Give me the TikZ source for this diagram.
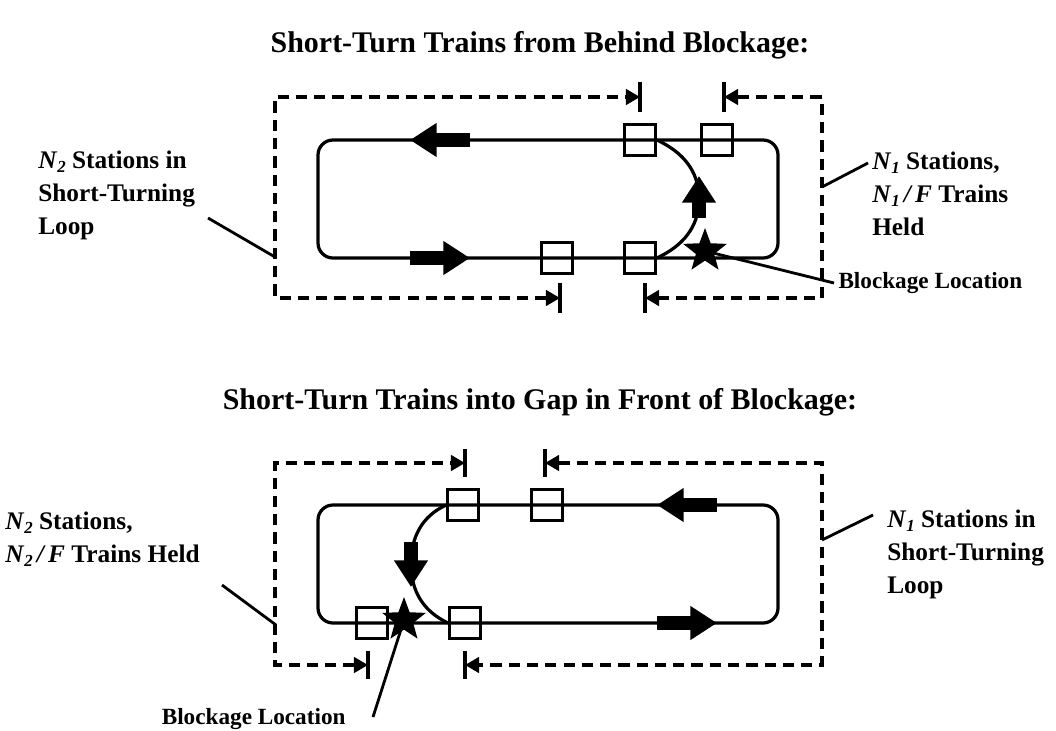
\documentclass[tikz,border=0pt]{standalone}
\usepackage{fontspec}
\setmainfont{Liberation Serif}
\usetikzlibrary{arrows.meta,shapes.geometric}

\newcommand{\Nsub}[1]{\textit{N}\raisebox{-.35ex}{\fontsize{12}{12}\selectfont\textit{#1}}}

\begin{document}
\begin{tikzpicture}[x=0.025cm,y=-0.025cm,
    track/.style={line width=2.3pt,rounded corners=0.375cm},
    turn/.style={line width=2.3pt},
    stn/.style={draw,line width=2.4pt,minimum size=0.76cm,inner sep=0pt},
    blk/.style={star,star points=5,star point ratio=2.4,fill=black,minimum size=1.15cm,inner sep=0pt},
    dimline/.style={line width=2.2pt,dash pattern=on 8pt off 5pt,
        {Triangle[length=10pt,width=11pt]}-{Triangle[length=10pt,width=11pt]}},
    tick/.style={line width=2.3pt},
    flow/.style={line width=10.5pt,-{Triangle[length=19pt,width=23pt]}},
    lead/.style={line width=2pt},
    lbl/.style={font=\fontsize{18}{23.5}\selectfont\bfseries,align=left,anchor=north west,inner sep=0pt},
    ttl/.style={font=\fontsize{21.3}{24}\selectfont\bfseries},
    blab/.style={font=\fontsize{16.5}{18}\selectfont\bfseries,inner sep=3pt}]
\useasboundingbox (0,0) rectangle (1056,730);

% upper panel: turn back behind the blockage
\node[ttl] (title1) at (540,45) {Short-Turn Trains from Behind Blockage:};
\draw[track] (318,140) rectangle (778,258);
\node[stn] (s1) at (640,140) {};
\node[stn] (s2) at (717,140) {};
\node[stn] (s3) at (557,258) {};
\node[stn] (s4) at (640,258) {};
\draw[turn] (s1.east) to[out=-25,in=90] (699,199) to[out=-90,in=25] (s4.east);
\draw[flow] (699,218) -- (699,176);
\draw[flow] (470,140) -- (410,140);
\draw[flow] (410,258) -- (470,258);

\coordinate (a1) at (640,97);
\coordinate (a2) at (724,97);
\coordinate (a3) at (560,298);
\coordinate (a4) at (645,298);
\coordinate (c1) at (275,97);
\coordinate (c2) at (275,298);
\coordinate (c3) at (822,97);
\coordinate (c4) at (822,298);
\foreach \p in {a1,a2,a3,a4}
    \draw[tick] (\p) ++(0,-15) -- ++(0,30);
\draw[dimline] (a3) -- (c2) -- (c1) -- (a1);
\draw[dimline] (a2) -- (c3) -- (c4) -- (a4);

\node[lbl] (left1) at (38,151) {\Nsub{2} Stations in\\Short-Turning\\Loop};
\node[lbl] (right1) at (872,152) {\Nsub{1} Stations,\\\Nsub{1}\,\textit{/\,F} Trains\\Held};
\coordinate (l1a) at (208,218);
\coordinate (l1b) at (275,257);
\coordinate (r1a) at (822,187);
\coordinate (r1b) at (868,163);
\draw[lead] (l1a) -- (l1b);
\draw[lead] (r1a) -- (r1b);

\node[blab,anchor=west] (bl1) at (834,283) {Blockage Location};
\node[blk] (blk1) at (705,251) {};
\draw[lead] (blk1.center) -- (bl1.west);

% lower panel: turn into the gap ahead of the blockage
\node[ttl] (title2) at (540,402) {Short-Turn Trains into Gap in Front of Blockage:};
\draw[track] (318,505) rectangle (778,623);
\node[stn] (t1) at (463,505) {};
\node[stn] (t2) at (547,505) {};
\node[stn] (t3) at (372,623) {};
\node[stn] (t4) at (465,623) {};
\draw[turn] (t1.west) to[out=-155,in=90] (411,564) to[out=-90,in=155] (t4.west);
\draw[flow] (411,542) -- (411,587);
\draw[flow] (717,505) -- (657,505);
\draw[flow] (657,623) -- (717,623);

\coordinate (b1) at (465,463);
\coordinate (b2) at (545,463);
\coordinate (b3) at (368,665);
\coordinate (b4) at (465,665);
\coordinate (d1) at (275,463);
\coordinate (d2) at (275,665);
\coordinate (d3) at (822,463);
\coordinate (d4) at (822,665);
\foreach \p in {b1,b2,b3,b4}
    \draw[tick] (\p) ++(0,-14) -- ++(0,28);
\draw[dimline] (b3) -- (d2) -- (d1) -- (b1);
\draw[dimline] (b2) -- (d3) -- (d4) -- (b4);

\node[lbl] (left2) at (5,512) {\Nsub{2} Stations,\\\Nsub{2}\,\textit{/\,F} Trains Held};
\node[lbl] (right2) at (887,510) {\Nsub{1} Stations in\\Short-Turning\\Loop};
\coordinate (l2a) at (222,585);
\coordinate (l2b) at (276,625);
\coordinate (r2a) at (822,540);
\coordinate (r2b) at (873,515);
\draw[lead] (l2a) -- (l2b);
\draw[lead] (r2a) -- (r2b);

\node[blab,anchor=east] (bl2) at (350,719) {Blockage Location};
\node[blk] (blk2) at (404,620) {};
\coordinate (bl2end) at (373,717);
\draw[lead] (bl2end) -- (blk2.center);
\end{tikzpicture}
\end{document}
